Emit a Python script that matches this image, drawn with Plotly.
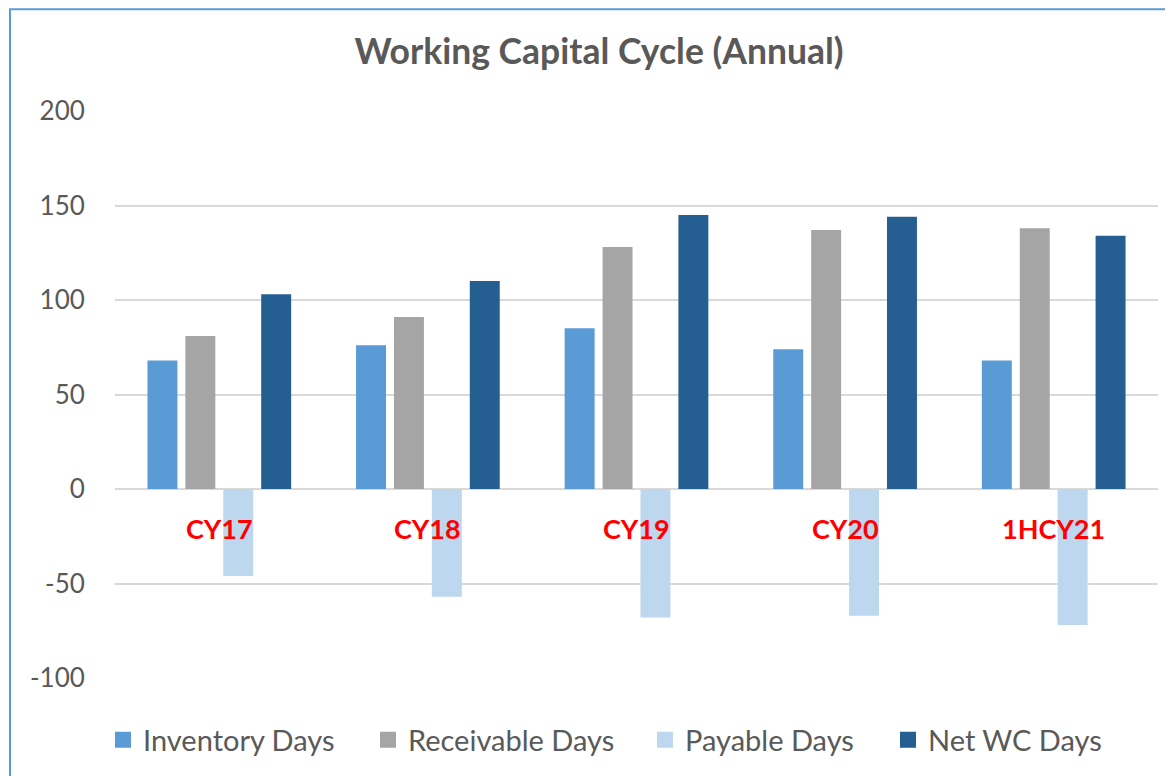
import plotly.graph_objects as go

categories = ["CY17", "CY18", "CY19", "CY20", "1HCY21"]
inventory_days = [68, 76, 85, 74, 68]
receivable_days = [81, 91, 128, 137, 138]
payable_days = [-46, -57, -68, -67, -72]
net_wc_days = [103, 110, 145, 144, 134]
y_ticks = [-100, -50, 0, 50, 100, 150, 200]
y_tick_text = ["-100", "-50", "0", "50", "100", "150", "200"]

series = [
    ("Inventory Days", inventory_days, "#5b9bd5"),
    ("Receivable Days", receivable_days, "#a5a5a5"),
    ("Payable Days", payable_days, "#bdd7ee"),
    ("Net WC Days", net_wc_days, "#255e91"),
]

FONT = "Lato, 'Open Sans', sans-serif"

# page body has an 8px offset; geometry below is in figure coordinates
W, H = 1165, 768
L, T = 107, 103
R = 15
B = 97
pw = W - L - R
ph = H - T - B

legend_ids = ["legend", "legend2", "legend3", "legend4"]
legend_left = [95, 360, 637, 880]

fig = go.Figure()
for (name, vals, col), lid in zip(series, legend_ids):
    fig.add_trace(go.Bar(name=name, x=categories, y=vals, marker_color=col,
                         marker_line_width=0, showlegend=False))
    fig.add_trace(go.Scatter(name=name, x=[None], y=[None], mode="markers",
                             marker=dict(symbol="square", size=16, color=col,
                                         line_width=0),
                             legend=lid, showlegend=True, hoverinfo="skip"))

for c in categories:
    fig.add_annotation(x=c, y=0, xref="x", yref="y", text="<b>%s</b>" % c,
                       showarrow=False, yshift=-39, yanchor="middle",
                       font=dict(family=FONT, size=27, color="#ff0000"))

fig.add_shape(type="rect", xref="paper", yref="paper",
              x0=(2 - L) / pw, x1=(W + 20 - L) / pw,
              y0=-(H + 20 - T - ph) / ph, y1=(ph + T - 1) / ph,
              line=dict(color="#5b9bd5", width=2), fillcolor="rgba(0,0,0,0)",
              layer="below")

legend_layouts = {}
for lid, lx in zip(legend_ids, legend_left):
    legend_layouts[lid] = dict(
        orientation="h", x=(lx - L) / pw, xanchor="left",
        y=-(732 - (T + ph)) / ph, yanchor="middle",
        font=dict(family=FONT, size=29, color="#595959"),
        itemwidth=30, itemsizing="trace", bgcolor="rgba(0,0,0,0)")

fig.update_layout(
    width=W, height=H,
    margin=dict(l=L, r=R, t=T, b=B, pad=0),
    paper_bgcolor="white", plot_bgcolor="white",
    barmode="group", bargap=0.273, bargroupgap=0.21,
    title=dict(text="<b>Working Capital Cycle (Annual)</b>", x=(591 - L) / pw,
               xref="paper", xanchor="center", y=1 - 44 / H, yanchor="middle",
               font=dict(family=FONT, size=35.5, color="#595959")),
    font=dict(family=FONT, color="#595959"),
    xaxis=dict(showticklabels=False, showgrid=False, zeroline=False,
               showline=False, ticks=""),
    yaxis=dict(range=[-100, 200], tickvals=y_ticks, ticktext=y_tick_text,
               showgrid=True, gridcolor="#d9d9d9", gridwidth=1.5,
               zeroline=True, zerolinecolor="#d9d9d9", zerolinewidth=2,
               showline=False, ticks="outside", ticklen=24, tickcolor="white",
               tickfont=dict(family=FONT, size=26, color="#595959")),
    **legend_layouts,
)

fig.write_html("out.html")
